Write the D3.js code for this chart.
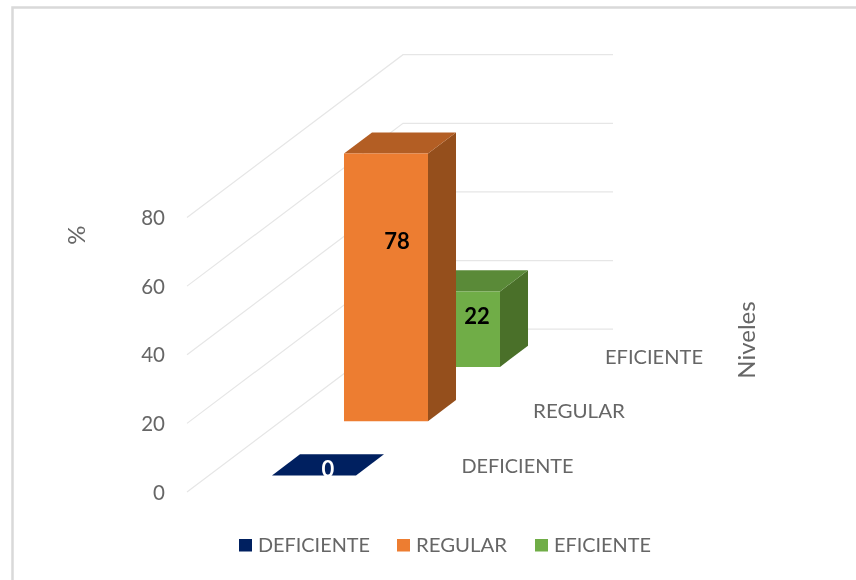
<!DOCTYPE html>
<html><head><meta charset="utf-8">
<script src="https://cdn.jsdelivr.net/npm/d3@7"></script>
<style>html,body{margin:0;padding:0;background:#fff}svg{display:block;filter:blur(0.4px)}text{font-family:Lato,"Open Sans",sans-serif}</style>
</head><body><div id="chart"></div>
<script>
const categories = ["DEFICIENTE", "REGULAR", "EFICIENTE"];
const values = [0, 78, 22];
const frontColors = ["#002060", "#ED7D31", "#70AD47"];
const topColors = ["#002060", "#B35E24", "#5A8A38"];
const sideColors = ["#002060", "#954F1C", "#4A7029"];
const labelColors = ["#ffffff", "#000000", "#000000"];
const yTicks = [0, 20, 40, 60, 80];

const W = 856, H = 580;
const svg = d3.select("#chart").append("svg").attr("width", W).attr("height", H);

// frame: only the top and left edges are visible
const framePath = d3.path();
framePath.moveTo(12.5, H); framePath.lineTo(12.5, 7.5); framePath.lineTo(W, 7.5);
svg.append("path").attr("d", framePath.toString()).attr("fill", "none").attr("stroke", "#d9d9d9").attr("stroke-width", 2.5);

// scales: value, width along the floor, and depth into the chart
const y = d3.scaleLinear().domain([0, 80]).range([0, 274.5]);
const xWorld = d3.scaleLinear().domain([0, 1]).range([0, 210]);
const depth = d3.scaleBand().domain(categories).range([0, 3]).paddingInner(0.611).paddingOuter(0.3055);
const depthX = d3.scaleLinear().domain([0, 3]).range([187, 403]);
const depthY = d3.scaleLinear().domain([0, 3]).range([492, 329.2]);
const px = (u, d) => depthX(d) + xWorld(u);
const py = (v, d) => depthY(d) - y(v);
const poly = pts => d3.line()(pts);

// gridlines
const grid = svg.append("g").attr("fill", "none").attr("stroke", "#e6e6e6").attr("stroke-width", 1.2);
yTicks.forEach(t => {
  grid.append("path").attr("d", poly([[px(0, 0), py(t, 0)], [px(0, 3), py(t, 3)], [px(1, 3), py(t, 3)]]));
});

// bars, back to front
const u0 = 0.3, u1 = 0.7;
const order = d3.range(categories.length).reverse();
order.forEach(i => {
  const d0 = depth(categories[i]), d1 = d0 + depth.bandwidth(), v = values[i];
  const g = svg.append("g");
  g.append("path").attr("fill", sideColors[i])
    .attr("d", poly([[px(u1, d0), py(0, d0)], [px(u1, d1), py(0, d1)], [px(u1, d1), py(v, d1)], [px(u1, d0), py(v, d0)]]) + "Z");
  g.append("path").attr("fill", topColors[i])
    .attr("d", poly([[px(u0, d0), py(v, d0)], [px(u0, d1), py(v, d1)], [px(u1, d1), py(v, d1)], [px(u1, d0), py(v, d0)]]) + "Z");
  g.append("path").attr("fill", frontColors[i])
    .attr("d", poly([[px(u0, d0), py(0, d0)], [px(u0, d0), py(v, d0)], [px(u1, d0), py(v, d0)], [px(u1, d0), py(0, d0)]]) + "Z");
});

// data labels: placed from the bar's middle depth, nudged as in the reference
const labelDx = [0, -3, 5], labelDy = [4, -35, -2];
categories.forEach((c, i) => {
  const dMid = depth(c) + depth.bandwidth() / 2;
  svg.append("text")
    .attr("x", (px(u0, dMid) + px(u1, dMid)) / 2 + labelDx[i])
    .attr("y", py(values[i] / 2, dMid) + labelDy[i])
    .attr("dy", "0.35em").attr("text-anchor", "middle")
    .attr("font-size", 22).attr("font-weight", 700).attr("fill", labelColors[i])
    .text(values[i]);
});

// value axis (front edge of the floor)
const axisScale = d3.scaleLinear().domain([0, 80]).range([depthY(0), depthY(0) - y(80)]);
const axis = svg.append("g").attr("transform", "translate(165,0.5)")
  .call(d3.axisLeft(axisScale).tickValues(yTicks).tickSize(0).tickPadding(0));
axis.select(".domain").remove();
axis.selectAll("text").attr("fill", "#666").attr("font-size", 20.5).style("font-family", "Lato");

// category labels on the depth axis
const catX = [517.5, 579, 654], catY = [466, 411, 357], catLen = [112, 92, 98];
categories.forEach((c, i) => {
  svg.append("text").attr("x", catX[i]).attr("y", catY[i]).attr("dy", "0.35em").attr("text-anchor", "middle")
    .attr("font-size", 19.8).attr("fill", "#666")
    .attr("textLength", catLen[i]).attr("lengthAdjust", "spacingAndGlyphs").text(c);
});

// axis titles
svg.append("text").attr("transform", "translate(77,235) rotate(-90)").attr("dy", "0.35em")
  .attr("text-anchor", "middle").attr("font-size", 24).attr("fill", "#666").text("%");
svg.append("text").attr("transform", "translate(747,340) rotate(-90)").attr("dy", "0.35em")
  .attr("text-anchor", "middle").attr("font-size", 24).attr("fill", "#666").text("Niveles");

// legend
const legendX = [239, 397, 535], legendLen = [112, 91, 97];
categories.forEach((c, i) => {
  svg.append("rect").attr("x", legendX[i]).attr("y", 539).attr("width", 13).attr("height", 12.5).attr("fill", frontColors[i]);
  svg.append("text").attr("x", legendX[i] + 19).attr("y", 545.5).attr("dy", "0.35em")
    .attr("font-size", 19.8).attr("fill", "#666")
    .attr("textLength", legendLen[i]).attr("lengthAdjust", "spacingAndGlyphs").text(c);
});
</script></body></html>
